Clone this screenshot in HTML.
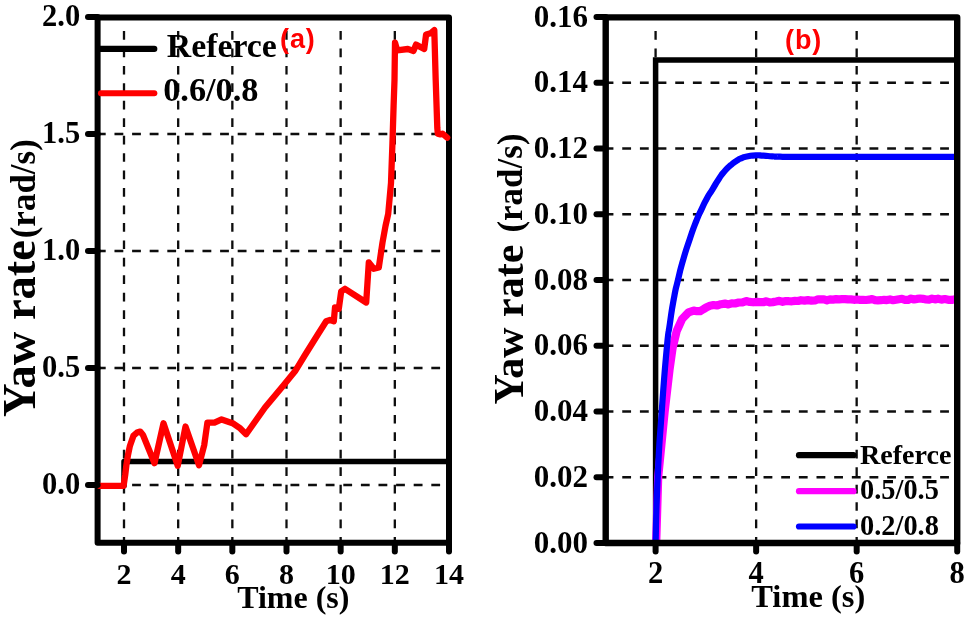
<!DOCTYPE html>
<html><head><meta charset="utf-8"><title>Yaw rate</title>
<style>html,body{margin:0;padding:0;background:#fff;}svg{display:block;}text{font-family:"Liberation Serif", serif;font-weight:bold;fill:#000;}.s{font-family:"Liberation Sans", sans-serif;font-weight:bold;fill:#ff0000;}</style>
</head><body>
<svg width="968" height="620" viewBox="0 0 968 620">
<defs><filter id="soft" x="0" y="0" width="968" height="620" filterUnits="userSpaceOnUse"><feGaussianBlur stdDeviation="0.55"/></filter></defs>
<rect x="0" y="0" width="968" height="620" fill="#ffffff"/>
<g filter="url(#soft)">
<g id="panelA">
<path d="M124.00,31 L124.00,542.80" stroke="#0c0c0c" stroke-width="2.3" fill="none" stroke-dasharray="8.7 8.75"/>
<path d="M178.17,31 L178.17,542.80" stroke="#0c0c0c" stroke-width="2.3" fill="none" stroke-dasharray="8.7 8.75"/>
<path d="M232.33,31 L232.33,542.80" stroke="#0c0c0c" stroke-width="2.3" fill="none" stroke-dasharray="8.7 8.75"/>
<path d="M286.50,31 L286.50,542.80" stroke="#0c0c0c" stroke-width="2.3" fill="none" stroke-dasharray="8.7 8.75"/>
<path d="M340.66,31 L340.66,542.80" stroke="#0c0c0c" stroke-width="2.3" fill="none" stroke-dasharray="8.7 8.75"/>
<path d="M394.83,31 L394.83,542.80" stroke="#0c0c0c" stroke-width="2.3" fill="none" stroke-dasharray="8.7 8.75"/>
<path d="M96.9,485.00 L449.00,485.00" stroke="#0c0c0c" stroke-width="2.3" fill="none" stroke-dasharray="8.8 8.8"/>
<path d="M96.9,368.00 L449.00,368.00" stroke="#0c0c0c" stroke-width="2.3" fill="none" stroke-dasharray="8.8 8.8"/>
<path d="M96.9,251.00 L449.00,251.00" stroke="#0c0c0c" stroke-width="2.3" fill="none" stroke-dasharray="8.8 8.8"/>
<path d="M96.9,134.00 L449.00,134.00" stroke="#0c0c0c" stroke-width="2.3" fill="none" stroke-dasharray="8.8 8.8"/>
<path d="M97.60,485.80 L124.00,485.80 L124.00,461.60 L449.00,461.60" stroke="#000" stroke-width="5.5" fill="none" stroke-linejoin="round"/>
<rect x="97.60" y="17.40" width="351.40" height="525.40" fill="none" stroke="#000" stroke-width="6" stroke-linejoin="round"/>
<path d="M99.5,485.8 L123.6,485.8 L125.2,475.0 L126.4,465.0 L128.0,455.0 L129.8,446.3 L133.5,435.6 L137.0,432.6 L140.2,431.6 L143.0,435.0 L154.5,463.2 L163.5,423.2 L177.7,465.8 L185.5,426.5 L199.0,465.2 L204.2,445.2 L207.4,422.6 L214.5,422.6 L221.6,419.4 L232.6,423.2 L240.3,428.4 L246.1,434.2 L265.0,407.5 L283.8,385.0 L295.0,371.3 L305.0,355.0 L317.5,335.0 L326.2,321.3 L330.0,320.0 L333.8,321.3 L335.0,307.5 L338.8,308.8 L341.2,291.3 L345.0,288.8 L366.2,302.5 L368.8,262.5 L373.8,268.8 L378.8,267.5 L382.5,242.5 L385.5,226.0 L388.2,214.0 L391.0,183.0 L392.4,144.5 L393.6,105.8 L394.5,80.0 L395.0,42.7 L397.2,50.3 L407.9,49.0 L413.5,50.9 L416.0,44.6 L424.2,49.0 L426.1,34.5 L430.5,33.3 L434.3,30.1 L435.7,80.0 L437.3,128.0 L437.8,133.6 L440.6,134.4 L442.5,133.6 L447.2,137.6" stroke="#ff0000" stroke-width="6.3" fill="none" stroke-linejoin="round" stroke-linecap="round"/>
<path d="M88,485.00 L97.60,485.00" stroke="#000" stroke-width="6" stroke-linecap="round"/>
<path d="M88,368.00 L97.60,368.00" stroke="#000" stroke-width="6" stroke-linecap="round"/>
<path d="M88,251.00 L97.60,251.00" stroke="#000" stroke-width="6" stroke-linecap="round"/>
<path d="M88,134.00 L97.60,134.00" stroke="#000" stroke-width="6" stroke-linecap="round"/>
<path d="M88,17.00 L97.60,17.00" stroke="#000" stroke-width="6" stroke-linecap="round"/>
<path d="M124.00,542.80 L124.00,551.5" stroke="#000" stroke-width="6" stroke-linecap="round"/>
<path d="M178.17,542.80 L178.17,551.5" stroke="#000" stroke-width="6" stroke-linecap="round"/>
<path d="M232.33,542.80 L232.33,551.5" stroke="#000" stroke-width="6" stroke-linecap="round"/>
<path d="M286.50,542.80 L286.50,551.5" stroke="#000" stroke-width="6" stroke-linecap="round"/>
<path d="M340.66,542.80 L340.66,551.5" stroke="#000" stroke-width="6" stroke-linecap="round"/>
<path d="M394.83,542.80 L394.83,551.5" stroke="#000" stroke-width="6" stroke-linecap="round"/>
<path d="M449.00,542.80 L449.00,551.5" stroke="#000" stroke-width="6" stroke-linecap="round"/>
<text x="80.2" y="494.00" font-size="30.5" text-anchor="end">0.0</text>
<text x="80.2" y="377.00" font-size="30.5" text-anchor="end">0.5</text>
<text x="80.2" y="260.00" font-size="30.5" text-anchor="end">1.0</text>
<text x="80.2" y="143.00" font-size="30.5" text-anchor="end">1.5</text>
<text x="80.2" y="26.00" font-size="30.5" text-anchor="end">2.0</text>
<text x="124.00" y="583.6" font-size="30" text-anchor="middle">2</text>
<text x="178.17" y="583.6" font-size="30" text-anchor="middle">4</text>
<text x="232.33" y="583.6" font-size="30" text-anchor="middle">6</text>
<text x="286.50" y="583.6" font-size="30" text-anchor="middle">8</text>
<text x="340.66" y="583.6" font-size="30" text-anchor="middle">10</text>
<text x="394.83" y="583.6" font-size="30" text-anchor="middle">12</text>
<text x="449.00" y="583.6" font-size="30" text-anchor="middle">14</text>
<text x="293.3" y="608.3" font-size="32" text-anchor="middle">Time (s)</text>
<text transform="translate(34.5,417) rotate(-90)" font-size="46.5">Yaw rate</text>
<text transform="translate(34.5,238.3) rotate(-90)" font-size="35">(rad/s)</text>
<path d="M100,48.9 L154.3,48.9" stroke="#000" stroke-width="6.1" stroke-linecap="round"/>
<path d="M101,93.2 L154.3,93.2" stroke="#ff0000" stroke-width="6.1" stroke-linecap="round"/>
<text x="166.8" y="57.1" font-size="33.8">Referce</text>
<text x="163.2" y="100.9" font-size="34.3">0.6/0.8</text>
<text class="s" x="280" y="48.2" font-size="27" letter-spacing="0.9">(a)</text>
</g>
<g id="panelB">
<path d="M655.60,31 L655.60,543.00" stroke="#0c0c0c" stroke-width="2.3" fill="none" stroke-dasharray="8.7 8.75"/>
<path d="M756.14,31 L756.14,543.00" stroke="#0c0c0c" stroke-width="2.3" fill="none" stroke-dasharray="8.7 8.75"/>
<path d="M856.68,31 L856.68,543.00" stroke="#0c0c0c" stroke-width="2.3" fill="none" stroke-dasharray="8.7 8.75"/>
<path d="M604.6,477.25 L957.20,477.25" stroke="#0c0c0c" stroke-width="2.3" fill="none" stroke-dasharray="8.8 8.86"/>
<path d="M604.6,411.50 L957.20,411.50" stroke="#0c0c0c" stroke-width="2.3" fill="none" stroke-dasharray="8.8 8.86"/>
<path d="M604.6,345.75 L957.20,345.75" stroke="#0c0c0c" stroke-width="2.3" fill="none" stroke-dasharray="8.8 8.86"/>
<path d="M604.6,280.00 L957.20,280.00" stroke="#0c0c0c" stroke-width="2.3" fill="none" stroke-dasharray="8.8 8.86"/>
<path d="M604.6,214.25 L957.20,214.25" stroke="#0c0c0c" stroke-width="2.3" fill="none" stroke-dasharray="8.8 8.86"/>
<path d="M604.6,148.50 L957.20,148.50" stroke="#0c0c0c" stroke-width="2.3" fill="none" stroke-dasharray="8.8 8.86"/>
<path d="M604.6,82.75 L957.20,82.75" stroke="#0c0c0c" stroke-width="2.3" fill="none" stroke-dasharray="8.8 8.86"/>
<path d="M655.60,543.00 L655.60,60 L957.20,60" stroke="#000" stroke-width="5.5" fill="none" stroke-linejoin="miter"/>
<path d="M656.2,543.0 L658.2,477.0 L664.6,412.0 L669.5,370.0 L672.6,348.0 L676.7,331.0 L682.1,319.0 L688.5,312.4 L693.7,310.6 L697.0,311.2 L700.2,311.1 L703.4,309.3 L706.6,307.2 L710.0,305.7 L713.5,305.0 L716.9,305.5 L721.0,304.2 L725.0,303.6 L728.3,304.4 L731.7,303.3 L735.0,303.5 L738.7,302.5 L742.5,302.3 L746.2,301.1 L749.7,301.9 L753.1,302.3 L756.5,301.9 L760.0,302.2 L763.2,302.2 L766.4,301.3 L769.6,302.3 L772.8,302.1 L776.1,301.5 L779.4,300.8 L782.7,301.8 L786.0,301.0 L789.0,301.2 L792.0,301.3 L795.0,300.9 L798.0,301.0 L801.0,300.2 L804.5,300.6 L808.0,300.1 L811.5,300.7 L815.0,300.5 L818.0,299.3 L821.0,299.3 L824.0,299.3 L827.0,300.3 L830.0,299.4 L833.0,299.6 L836.0,299.1 L839.0,299.4 L842.0,299.2 L845.0,299.1 L848.0,299.4 L851.0,299.4 L854.0,299.8 L857.0,299.5 L860.0,299.8 L863.0,299.8 L866.0,300.0 L869.0,299.7 L872.0,299.0 L875.0,300.1 L878.0,300.3 L881.0,300.2 L884.0,299.8 L887.0,300.1 L890.0,299.4 L893.0,300.2 L896.0,299.7 L899.0,299.2 L902.0,298.8 L905.0,299.8 L908.0,299.9 L911.0,298.6 L914.0,299.5 L917.0,298.9 L920.0,298.5 L923.0,298.8 L926.0,299.5 L929.0,299.7 L932.0,298.6 L935.0,299.4 L938.0,298.7 L941.4,299.6 L944.8,299.0 L948.2,299.8 L951.6,299.9 L955.0,299.2" stroke="#ff00ff" stroke-width="8.2" fill="none" stroke-linejoin="round" stroke-linecap="butt"/>
<path d="M655.60,543.00 C656.30,521.00 655.67,520.67 657.70,477.00 C659.73,433.33 658.70,454.67 661.70,412.00 C664.70,369.33 664.00,378.27 666.70,349.00 C669.40,319.73 667.40,341.07 669.80,324.20 C672.20,307.33 671.20,313.03 673.90,298.40 C676.60,283.77 674.80,293.20 677.90,280.30 C681.00,267.40 679.23,273.47 683.20,259.70 C687.17,245.93 685.43,251.90 689.80,239.00 C694.17,226.10 692.40,230.87 696.30,221.00 C700.20,211.13 698.07,216.73 701.50,209.40 C704.93,202.07 702.93,205.70 706.60,199.00 C710.27,192.30 708.37,196.07 712.50,189.30 C716.63,182.53 714.90,184.80 719.00,178.70 C723.10,172.60 720.90,175.50 724.80,171.00 C728.70,166.50 726.80,168.60 730.70,165.20 C734.60,161.80 732.63,163.23 736.50,160.80 C740.37,158.37 738.43,159.40 742.30,157.90 C746.17,156.40 743.60,157.17 748.10,156.30 C752.60,155.43 750.63,155.50 755.80,155.30 C760.97,155.10 758.10,155.37 763.60,155.70 C769.10,156.03 766.83,155.97 772.30,156.30 C777.77,156.63 770.43,156.53 780.00,156.70 C789.57,156.87 767.67,156.77 801.00,156.80 C834.33,156.83 828.67,156.80 880.00,156.80 C931.33,156.80 930.00,156.80 955.00,156.80" stroke="#0000ff" stroke-width="6.2" fill="none" stroke-linejoin="round" stroke-linecap="butt"/>
<rect x="605.70" y="17.40" width="351.50" height="525.60" fill="none" stroke="#000" stroke-width="6.4" stroke-linejoin="round"/>
<path d="M596.5,543.00 L605.70,543.00" stroke="#000" stroke-width="6" stroke-linecap="round"/>
<text x="588" y="552.50" font-size="31" text-anchor="end">0.00</text>
<path d="M596.5,477.25 L605.70,477.25" stroke="#000" stroke-width="6" stroke-linecap="round"/>
<text x="588" y="486.75" font-size="31" text-anchor="end">0.02</text>
<path d="M596.5,411.50 L605.70,411.50" stroke="#000" stroke-width="6" stroke-linecap="round"/>
<text x="588" y="421.00" font-size="31" text-anchor="end">0.04</text>
<path d="M596.5,345.75 L605.70,345.75" stroke="#000" stroke-width="6" stroke-linecap="round"/>
<text x="588" y="355.25" font-size="31" text-anchor="end">0.06</text>
<path d="M596.5,280.00 L605.70,280.00" stroke="#000" stroke-width="6" stroke-linecap="round"/>
<text x="588" y="289.50" font-size="31" text-anchor="end">0.08</text>
<path d="M596.5,214.25 L605.70,214.25" stroke="#000" stroke-width="6" stroke-linecap="round"/>
<text x="588" y="223.75" font-size="31" text-anchor="end">0.10</text>
<path d="M596.5,148.50 L605.70,148.50" stroke="#000" stroke-width="6" stroke-linecap="round"/>
<text x="588" y="158.00" font-size="31" text-anchor="end">0.12</text>
<path d="M596.5,82.75 L605.70,82.75" stroke="#000" stroke-width="6" stroke-linecap="round"/>
<text x="588" y="92.25" font-size="31" text-anchor="end">0.14</text>
<path d="M596.5,17.00 L605.70,17.00" stroke="#000" stroke-width="6" stroke-linecap="round"/>
<text x="588" y="26.50" font-size="31" text-anchor="end">0.16</text>
<path d="M655.60,543.00 L655.60,551.5" stroke="#000" stroke-width="6" stroke-linecap="round"/>
<text x="655.60" y="583" font-size="30.5" text-anchor="middle">2</text>
<path d="M756.14,543.00 L756.14,551.5" stroke="#000" stroke-width="6" stroke-linecap="round"/>
<text x="756.14" y="583" font-size="30.5" text-anchor="middle">4</text>
<path d="M856.68,543.00 L856.68,551.5" stroke="#000" stroke-width="6" stroke-linecap="round"/>
<text x="856.68" y="583" font-size="30.5" text-anchor="middle">6</text>
<path d="M957.22,543.00 L957.22,551.5" stroke="#000" stroke-width="6" stroke-linecap="round"/>
<text x="957.22" y="583" font-size="30.5" text-anchor="middle">8</text>
<text x="808.3" y="607" font-size="32.5" text-anchor="middle">Time (s)</text>
<text transform="translate(523,404.5) rotate(-90)" font-size="42">Yaw rate</text>
<text transform="translate(522,232.6) rotate(-90)" font-size="35">(rad/s)</text>
<path d="M799,455.2 L853.5,455.2" stroke="#000" stroke-width="6.2" stroke-linecap="round"/>
<path d="M799,491.2 L853.5,491.2" stroke="#ff00ff" stroke-width="6.2" stroke-linecap="round"/>
<path d="M799,526.5 L853.5,526.5" stroke="#0000ff" stroke-width="6.2" stroke-linecap="round"/>
<text x="860" y="463.8" font-size="28.1">Referce</text>
<text x="860" y="499.2" font-size="28.4">0.5/0.5</text>
<text x="860" y="535.1" font-size="28.4">0.2/0.8</text>
<text class="s" x="785" y="48.7" font-size="27" letter-spacing="0.9">(b)</text>
</g>
</g>
</svg></body></html>
